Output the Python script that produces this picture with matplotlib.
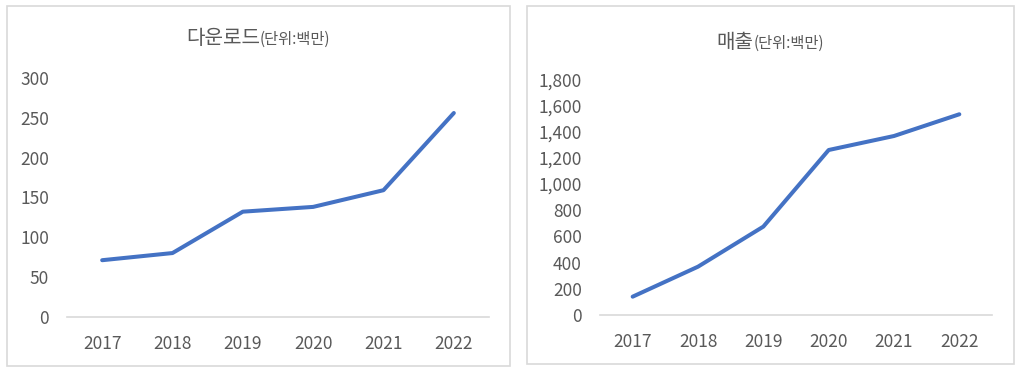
import matplotlib
matplotlib.use("Agg")
import matplotlib.pyplot as plt
from matplotlib.patches import Rectangle
from matplotlib.ticker import FuncFormatter

plt.rcParams['font.family'] = ['Noto Sans CJK KR', 'DejaVu Sans']

years = ['2017', '2018', '2019', '2020', '2021', '2022']
downloads = [71, 80, 132, 138, 159, 256]
sales = [140, 369, 675, 1260, 1367, 1533]

LINE = '#4472C4'
TXT = '#595959'
GRID = '#d9d9d9'

W, H = 1024, 377
fig = plt.figure(figsize=(W / 100, H / 100), dpi=100)
fig.patch.set_facecolor('white')


def px_box(x0, y0, x1, y1):
    # pixel box (top-left origin) -> figure fraction [left, bottom, width, height]
    return [x0 / W, 1 - y1 / H, (x1 - x0) / W, (y1 - y0) / H]


def panel(x0, y0, x1, y1):
    l, b, w, h = px_box(x0, y0, x1, y1)
    fig.patches.append(Rectangle((l, b), w, h, transform=fig.transFigure,
                                 facecolor='none', edgecolor=GRID, lw=1.2, zorder=-1))


def chart(box, values, ymax, step, fmt):
    ax = fig.add_axes(px_box(*box))
    ax.plot(range(len(years)), values, color=LINE, lw=2.9, solid_capstyle='round',
            solid_joinstyle='round')
    ax.set_xlim(-0.5, len(years) - 0.5)
    ax.set_ylim(0, ymax)
    ax.set_xticks(range(len(years)))
    ax.set_xticklabels(years)
    ax.set_yticks(range(0, ymax + 1, step))
    ax.yaxis.set_major_formatter(FuncFormatter(fmt))
    ax.tick_params(length=0, labelsize=12.5, colors=TXT, pad=13)
    for s in ['top', 'right', 'left']:
        ax.spines[s].set_visible(False)
    ax.spines['bottom'].set_color(GRID)
    ax.spines['bottom'].set_linewidth(1.2)
    ax.patch.set_alpha(0)
    return ax


def title(cx, cy, big, small):
    r = fig.canvas.get_renderer()
    t1 = fig.text(0, 0, big, fontsize=14.5, color=TXT, ha='left', va='baseline')
    t2 = fig.text(0, 0, small, fontsize=11, color=TXT, ha='left', va='baseline')
    w1 = t1.get_window_extent(r).width
    w2 = t2.get_window_extent(r).width
    x = cx - (w1 + w2) / 2
    yb = H - cy - 6
    t1.set_position((x / W, yb / H))
    t2.set_position(((x + w1) / W, yb / H))


panel(7, 6, 510, 366)
panel(527, 6, 1014, 364)

chart((67, 78, 489, 316.7), downloads, 300, 50, lambda v, p: f'{int(v)}')
chart((600, 79.3, 992, 315), sales, 1800, 200, lambda v, p: f'{int(v):,}')

title(258, 38, '다운로드', '(단위:백만)')
title(770, 42, '매출', '(단위:백만)')

fig.savefig('out.png', dpi=100)
